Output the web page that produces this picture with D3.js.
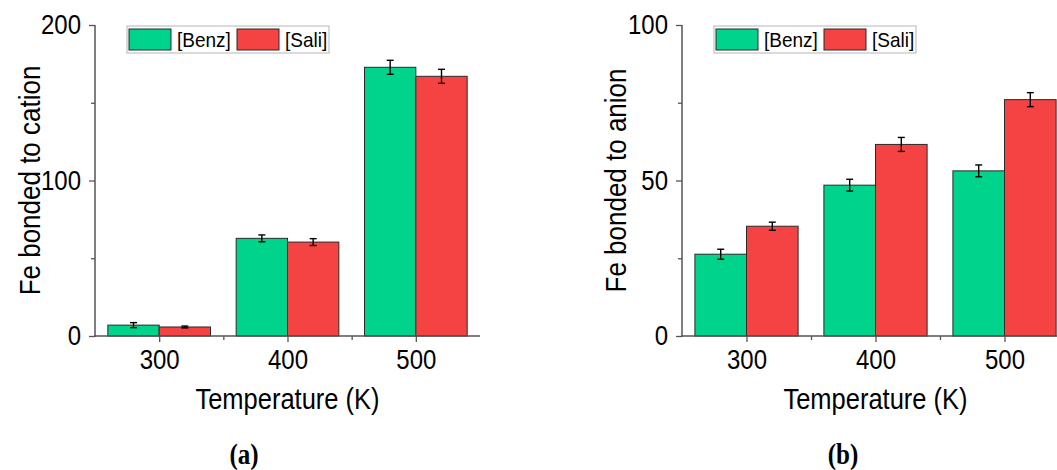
<!DOCTYPE html>
<html>
<head>
<meta charset="utf-8">
<script src="https://cdn.jsdelivr.net/npm/d3@7"></script>
<style>
html,body{margin:0;padding:0;background:#fff;}
svg{display:block;}
text{font-family:"Liberation Sans", Arial, sans-serif;fill:#000;}
</style>
</head>
<body>
<svg id="chart" width="1057" height="470"></svg>
<script>
// ---- data ----
const temps = [300, 400, 500];
const seriesNames = ["[Benz]", "[Sali]"];
const seriesColors = ["#00d48c", "#f54343"];
const cationBenz = [7.0, 62.8, 172.8];
const cationBenzErr = [1.6, 2.2, 4.5];
const cationSali = [5.8, 60.4, 167.0];
const cationSaliErr = [0.6, 2.2, 4.5];
const anionBenz = [26.3, 48.5, 53.1];
const anionBenzErr = [1.6, 1.9, 1.9];
const anionSali = [35.3, 61.6, 76.0];
const anionSaliErr = [1.3, 2.25, 2.25];
const cationTicks = [0, 100, 200];
const cationMinor = [50, 150];
const anionTicks = [0, 50, 100];
const anionMinor = [25, 75];
const xMinor = [350, 450];

const svg = d3.select("#chart");
const SY = 1.15; // glyphs in the reference are slightly tall

function panel(opts) {
  const x = d3.scaleLinear().domain([250, 550]).range([opts.x0, opts.x1]);
  const y = d3.scaleLinear().domain(opts.yDomain).range([336, 25]);
  const g = svg.append("g");
  const barK = 40; // bar width in K units

  const groups = [
    {vals: opts.benz, errs: opts.benzErr, color: seriesColors[0], off: -barK},
    {vals: opts.sali, errs: opts.saliErr, color: seriesColors[1], off: 0}
  ];
  groups.forEach(s => {
    g.selectAll(null).data(temps).enter().append("rect")
      .attr("x", t => x(t + s.off))
      .attr("width", t => x(t + s.off + barK) - x(t + s.off))
      .attr("y", (t, i) => y(s.vals[i]))
      .attr("height", (t, i) => y(0) - y(s.vals[i]))
      .attr("fill", s.color)
      .attr("stroke", "#2a2a2a")
      .attr("stroke-width", 1);
  });
  groups.forEach(s => {
    temps.forEach((t, i) => {
      const cx = x(t + s.off + barK / 2);
      const yt = y(s.vals[i] + s.errs[i]);
      const yb = y(s.vals[i] - s.errs[i]);
      const eg = g.append("g").attr("stroke", "#000").attr("stroke-width", 1.4);
      eg.append("line").attr("x1", cx).attr("x2", cx).attr("y1", yt).attr("y2", yb);
      eg.append("line").attr("x1", cx - 3.5).attr("x2", cx + 3.5).attr("y1", yt).attr("y2", yt);
      eg.append("line").attr("x1", cx - 3.5).attr("x2", cx + 3.5).attr("y1", yb).attr("y2", yb);
    });
  });

  // axes
  const axCol = "#555";
  const yAx = g.append("g").attr("transform", `translate(${opts.x0},0)`)
    .call(d3.axisLeft(y).tickValues(opts.ticks).tickSize(6).tickPadding(8).tickFormat(d3.format("d")));
  const yMin = g.append("g").attr("transform", `translate(${opts.x0},0)`)
    .call(d3.axisLeft(y).tickValues(opts.minor).tickSize(4).tickFormat(""));
  const xAx = g.append("g").attr("transform", `translate(0,${y(0)})`)
    .call(d3.axisBottom(x).tickValues(temps).tickSize(6).tickPadding(8).tickFormat(d3.format("d")));
  const xMin = g.append("g").attr("transform", `translate(0,${y(0)})`)
    .call(d3.axisBottom(x).tickValues(xMinor).tickSize(4).tickFormat(""));
  [yAx, yMin, xAx, xMin].forEach(a => {
    a.select(".domain").attr("stroke", axCol).attr("stroke-width", 1.5);
    a.selectAll(".tick line").attr("stroke", axCol).attr("stroke-width", 1.3);
    a.selectAll("text").attr("font-size", 24).attr("fill", "#000")
      .style("font-family", '"Liberation Sans", Arial, sans-serif');
  });
  yMin.select(".domain").remove();
  xMin.select(".domain").remove();
  yAx.select(".domain").attr("d", `M0,${y.range()[0] + 1}V${y.range()[1]}`);
  xAx.select(".domain").attr("d", `M${opts.x0 - 1},0H${opts.x1}`);
  yAx.selectAll(".tick text").attr("transform", `scale(1,${SY})`);
  xAx.selectAll(".tick text").attr("transform", `scale(1,${SY})`).attr("y", 13 / SY);

  // axis titles
  g.append("text")
    .attr("transform", `translate(${(opts.x0 + opts.x1) / 2},409) scale(1,${SY})`)
    .attr("text-anchor", "middle").attr("font-size", 25.5)
    .text("Temperature (K)");
  g.append("text")
    .attr("transform", `translate(${opts.titleX},${(y.range()[0] + y.range()[1]) / 2}) scale(${SY},1) rotate(-90)`)
    .attr("text-anchor", "middle").attr("font-size", 26)
    .text(opts.yTitle);

  // legend
  const lg = g.append("g").attr("transform", `translate(${opts.x0 + 32},26)`);
  lg.append("rect").attr("x", 0).attr("y", 0).attr("width", 202).attr("height", 27)
    .attr("fill", "#fff").attr("stroke", "#b5b5b5").attr("stroke-width", 1);
  const legX = [2, 110];
  seriesNames.forEach((n, i) => {
    lg.append("rect").attr("x", legX[i]).attr("y", 3).attr("width", 42).attr("height", 21)
      .attr("fill", seriesColors[i]).attr("stroke", "#2a2a2a").attr("stroke-width", 1);
    lg.append("text").attr("transform", `translate(${legX[i] + 48},20.5) scale(1,1.1)`)
      .attr("font-size", 19).text(n);
  });

  // panel label
  svg.append("text").attr("transform", `translate(${opts.labelX},464) scale(1,1.15)`)
    .attr("text-anchor", "middle")
    .style("font-family", '"Liberation Serif", "Times New Roman", serif')
    .attr("font-weight", "bold").attr("font-size", 25).text(opts.label);
}

panel({x0: 95, x1: 480, yDomain: [0, 200], ticks: cationTicks, minor: cationMinor,
  benz: cationBenz, benzErr: cationBenzErr, sali: cationSali, saliErr: cationSaliErr,
  yTitle: "Fe bonded to cation", titleX: 40, label: "(a)", labelX: 244});
panel({x0: 682, x1: 1069, yDomain: [0, 100], ticks: anionTicks, minor: anionMinor,
  benz: anionBenz, benzErr: anionBenzErr, sali: anionSali, saliErr: anionSaliErr,
  yTitle: "Fe bonded to anion", titleX: 626, label: "(b)", labelX: 843});
</script>
</body>
</html>
